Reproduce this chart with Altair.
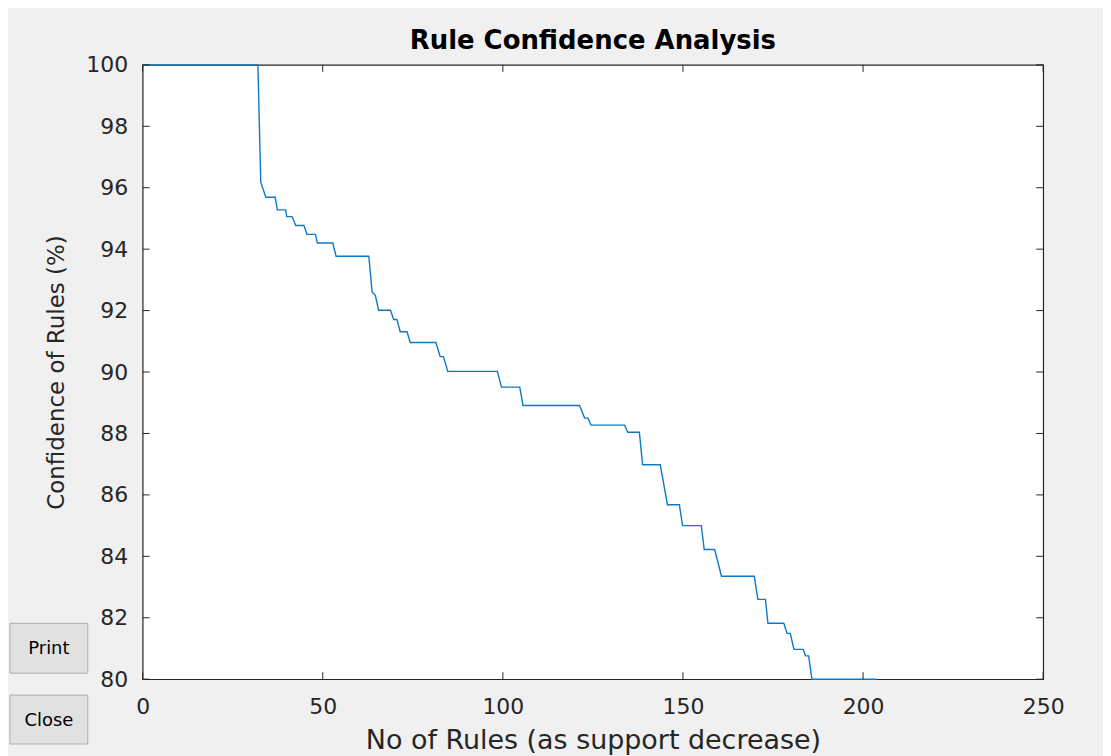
import altair as alt
import pandas as pd

# Vertices of the step-like confidence curve (rule index, confidence %)
rule_index = [0, 32, 32.8, 34.2, 36.8, 37.4, 39.7, 40, 41.5, 42.5, 44.8, 45.6, 48, 48.5, 52.8,
              53.7, 62.8, 63.7, 64.6, 65.5, 68.8, 69.7, 70.6, 71.5, 73.4, 74.3, 81.4, 82.6, 83.5,
              84.7, 98.5, 99.6, 104.7, 105.6, 121.3, 122.7, 123.6, 124.5, 133.8, 134.7, 137.9,
              138.8, 143.7, 145.7, 149.0, 149.9, 155.1, 155.9, 158.8, 160.7, 169.8, 170.8, 172.9,
              173.6, 178.0, 178.9, 179.8, 180.8, 183.4, 184.0, 184.9, 185.8, 203.8]
confidence = [100, 100, 96.18, 95.69, 95.69, 95.28, 95.28, 95.06, 95.06, 94.77, 94.77, 94.48, 94.48, 94.2, 94.2,
              93.77, 93.77, 92.61, 92.5, 92.01, 92.01, 91.71, 91.71, 91.31, 91.31, 90.96, 90.96, 90.5, 90.5,
              90.02, 90.02, 89.51, 89.51, 88.91, 88.91, 88.5, 88.5, 88.27, 88.27, 88.04, 88.04,
              86.98, 86.98, 85.68, 85.68, 85.0, 85.0, 84.22, 84.22, 83.35, 83.35, 82.6, 82.6,
              81.82, 81.82, 81.49, 81.49, 80.97, 80.97, 80.76, 80.76, 80.0, 80.0]

x_ticks = [0, 50, 100, 150, 200, 250]
y_ticks = [80, 82, 84, 86, 88, 90, 92, 94, 96, 98, 100]
button_labels = ["Print", "Close"]

W, H = 903, 616
FONT = "DejaVu Sans"
AX = "#262626"

line_df = pd.DataFrame({"rules": rule_index, "conf": confidence, "order": range(len(rule_index))})
xt_df = pd.DataFrame({"t": x_ticks})
yt_df = pd.DataFrame({"t": y_ticks})

xscale = alt.Scale(domain=[0, 250], nice=False, zero=False)
yscale = alt.Scale(domain=[80, 100], nice=False, zero=False)

line = alt.Chart(line_df).mark_line(color="#0F79C6", strokeWidth=1.4).encode(
    x=alt.X("rules:Q", scale=xscale,
            axis=alt.Axis(values=x_ticks, title="No of Rules (as support decrease)",
                          ticks=False, domain=False, grid=False, labelPadding=17,
                          labelFlush=False, labelFontSize=22, titleFontSize=27,
                          titleX=W / 2, titleY=62, titleBaseline="middle")),
    y=alt.Y("conf:Q", scale=yscale,
            axis=alt.Axis(values=y_ticks, title="Confidence of Rules (%)",
                          ticks=False, domain=False, grid=False, labelPadding=15,
                          labelFlush=False, labelFontSize=22, titleFontSize=23,
                          titleX=-86, titleY=H / 2, titleBaseline="middle", titleAngle=-90)),
    order="order:Q",
)

tick_len = 7
xb = alt.Chart(xt_df).mark_rule(color=AX, strokeWidth=1).encode(
    x=alt.X("t:Q", scale=xscale), y=alt.value(H), y2=alt.value(H - tick_len))
xtop = alt.Chart(xt_df).mark_rule(color=AX, strokeWidth=1).encode(
    x=alt.X("t:Q", scale=xscale), y=alt.value(0), y2=alt.value(tick_len))
yl = alt.Chart(yt_df).mark_rule(color=AX, strokeWidth=1).encode(
    y=alt.Y("t:Q", scale=yscale), x=alt.value(0), x2=alt.value(tick_len))
yr = alt.Chart(yt_df).mark_rule(color=AX, strokeWidth=1).encode(
    y=alt.Y("t:Q", scale=yscale), x=alt.value(W), x2=alt.value(W - tick_len))

# UI buttons at the lower left of the figure window
print_df = pd.DataFrame({"label": [button_labels[0]]})
close_df = pd.DataFrame({"label": [button_labels[1]]})
print_btn = alt.Chart(print_df).mark_rect(
    fill="#E1E1E1", stroke="#ADADAD", strokeWidth=1).encode(
    x=alt.value(-133), x2=alt.value(-55), y=alt.value(560), y2=alt.value(610))
print_txt = alt.Chart(print_df).mark_text(
    font=FONT, fontSize=18, color="#000000", align="center", baseline="middle").encode(
    x=alt.value(-94), y=alt.value(586), text="label:N")
close_btn = alt.Chart(close_df).mark_rect(
    fill="#E1E1E1", stroke="#ADADAD", strokeWidth=1).encode(
    x=alt.value(-133), x2=alt.value(-55), y=alt.value(632), y2=alt.value(681))
close_txt = alt.Chart(close_df).mark_text(
    font=FONT, fontSize=18, color="#000000", align="center", baseline="middle").encode(
    x=alt.value(-94), y=alt.value(658), text="label:N")

chart = alt.layer(line, xb, xtop, yl, yr, print_btn, print_txt, close_btn, close_txt).properties(
    width=W, height=H,
    title=alt.TitleParams("Rule Confidence Analysis", font=FONT, fontSize=26, fontWeight="bold",
                          color="#000000", anchor="middle", frame="group",
                          baseline="alphabetic", offset=15, dy=36),
    background="#F0F0F0",
    autosize=alt.AutoSizeParams(type="none"),
    padding={"left": 135, "top": 56, "right": 60, "bottom": 76},
).configure_view(
    fill="white", stroke=AX, strokeWidth=1.2
).configure_axis(
    labelFont=FONT, titleFont=FONT,
    labelColor=AX, titleColor=AX, titleFontWeight="normal"
)

chart.save("out.html", embed_options={"renderer": "svg", "actions": False})
